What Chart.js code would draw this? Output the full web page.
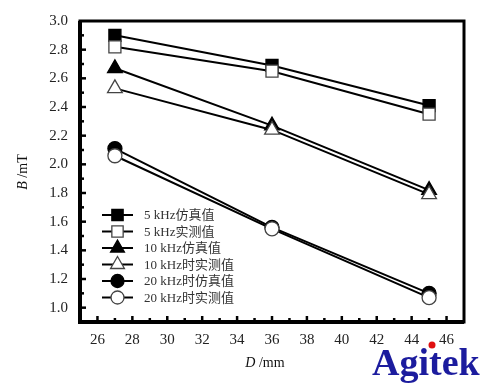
<!DOCTYPE html>
<html><head><meta charset="utf-8">
<script src="https://cdn.jsdelivr.net/npm/chart.js@4/dist/chart.umd.min.js"></script>
<style>html,body{margin:0;padding:0;background:#fff}#wrap{width:500px;height:383px;position:relative}</style>
</head><body><div id="wrap"><canvas id="c" width="500" height="383"></canvas></div>
<script>
const distances = [27, 36, 45];
const sim5 = [2.90, 2.69, 2.41];
const meas5 = [2.82, 2.65, 2.35];
const sim10 = [2.67, 2.27, 1.82];
const meas10 = [2.53, 2.24, 1.79];
const sim20 = [2.11, 1.56, 1.10];
const meas20 = [2.06, 1.55, 1.07];
const seriesLabels = ['5 kHz仿真值','5 kHz实测值','10 kHz仿真值','10 kHz时实测值','20 kHz时仿真值','20 kHz时实测值'];
const yTicks = [1.0,1.2,1.4,1.6,1.8,2.0,2.2,2.4,2.6,2.8,3.0];
const xTicks = [26,28,30,32,34,36,38,40,42,44,46];

const serif = '"Liberation Serif","Noto Sans CJK SC",serif';
function mk(label, data, style, filled, radius, order){
  return {label, data: distances.map((x,i)=>({x, y:data[i]})), borderColor:'#000', borderWidth:2,
    pointStyle: style, pointRadius: radius, pointHoverRadius: radius,
    pointBackgroundColor: filled ? '#000' : '#fff', pointBorderColor: filled ? '#000' : '#444',
    pointBorderWidth: 1.3, fill:false, tension:0, order};
}
const datasets = [
  mk(seriesLabels[0], sim5, 'rect', true, 8.5, 2),
  mk(seriesLabels[1], meas5, 'rect', false, 8.5, 1),
  mk(seriesLabels[2], sim10, 'triangle', true, 8.5, 2),
  mk(seriesLabels[3], meas10, 'triangle', false, 8.5, 1),
  mk(seriesLabels[4], sim20, 'circle', true, 7, 2),
  mk(seriesLabels[5], meas20, 'circle', false, 7, 1),
];

const decor = {
  id:'decor',
  afterDatasetsDraw(chart){
    const ctx = chart.ctx, a = chart.chartArea, xs = chart.scales.x, ys = chart.scales.y;
    ctx.save();
    ctx.strokeStyle='#000'; ctx.lineWidth=2.5;
    for(let v=26; v<=46; v++){
      const px = xs.getPixelForValue(v); const len = (v%2===0)?6:4;
      ctx.beginPath(); ctx.moveTo(px, a.bottom); ctx.lineTo(px, a.bottom-len); ctx.stroke();
    }
    for(let k=10; k<=29; k++){
      const py = ys.getPixelForValue(k/10); const len = (k%2===0)?6:4;
      ctx.beginPath(); ctx.moveTo(a.left, py); ctx.lineTo(a.left+len, py); ctx.stroke();
    }
    ctx.lineWidth=3;
    ctx.strokeRect(a.left, a.top, a.right-a.left, a.bottom-a.top);
    ctx.lineWidth=4;
    ctx.beginPath(); ctx.moveTo(a.left, a.top); ctx.lineTo(a.left, a.bottom); ctx.lineTo(a.right, a.bottom); ctx.stroke();

    // legend
    const lx0 = 102, lx1 = 133, tx = 144, y0 = 215, dy = 16.5;
    chart.data.datasets.forEach((ds,i)=>{
      const y = y0 + i*dy;
      ctx.strokeStyle='#000'; ctx.lineWidth=2;
      ctx.beginPath(); ctx.moveTo(lx0,y); ctx.lineTo(lx1,y); ctx.stroke();
      ctx.fillStyle = ds.pointBackgroundColor; ctx.strokeStyle = ds.pointBorderColor; ctx.lineWidth = ds.pointBorderWidth;
      const r = ds.pointStyle==='circle' ? 6.5 : 8;
      Chart.helpers.drawPoint(ctx, {pointStyle: ds.pointStyle, radius: r, borderWidth: ds.pointBorderWidth, rotation:0}, (lx0+lx1)/2, y);
      ctx.fillStyle='#333'; ctx.font='13px '+serif; ctx.textBaseline='middle'; ctx.textAlign='left';
      ctx.fillText(ds.label, tx, y+1);
    });

    // axis titles
    ctx.fillStyle='#111'; ctx.textBaseline='middle';
    ctx.save(); ctx.translate(23, 172); ctx.rotate(-Math.PI/2);
    ctx.textAlign='left';
    ctx.font='italic 14px '+serif; const wB = ctx.measureText('B').width;
    ctx.font='14px '+serif; const wU = ctx.measureText(' /mT').width;
    const st = -(wB+wU)/2;
    ctx.font='italic 14px '+serif; ctx.fillText('B', st, 0);
    ctx.font='14px '+serif; ctx.fillText(' /mT', st+wB, 0);
    ctx.restore();
    ctx.textAlign='left';
    ctx.font='italic 14px '+serif; const wD = ctx.measureText('D').width;
    ctx.font='14px '+serif; const wM = ctx.measureText(' /mm').width;
    const sx = 265 - (wD+wM)/2;
    ctx.font='italic 14px '+serif; ctx.fillText('D', sx, 363);
    ctx.font='14px '+serif; ctx.fillText(' /mm', sx+wD, 363);

    // logo
    ctx.font='bold 38px '+serif; ctx.fillStyle='#1c1c9e'; ctx.textBaseline='alphabetic';
    ctx.fillText('Agitek', 372, 375);
    ctx.fillStyle='#e01010'; ctx.beginPath(); ctx.arc(432, 345, 3.5, 0, Math.PI*2); ctx.fill();
    ctx.restore();
  }
};

new Chart(document.getElementById('c'), {
  type:'line',
  data:{datasets},
  options:{
    responsive:false, animation:false,
    layout:{padding:{left:0, right:36, top:19, bottom:0}},
    plugins:{legend:{display:false}, tooltip:{enabled:false}},
    scales:{
      x:{type:'linear', min:25, max:47,
        afterBuildTicks(s){ s.ticks = xTicks.map(v=>({value:v})); },
        afterFit(s){ s.height = 61; },
        grid:{display:false, drawTicks:false}, border:{display:false},
        ticks:{color:'#222', font:{family:serif, size:15}, padding:9}},
      y:{type:'linear', min:0.9, max:3.0,
        afterBuildTicks(s){ s.ticks = yTicks.map(v=>({value:v})); },
        afterFit(s){ s.width = 80; },
        grid:{display:false, drawTicks:false}, border:{display:false},
        ticks:{color:'#222', font:{family:serif, size:15}, padding:12, callback:v=>Number(v).toFixed(1)}}
    }
  },
  plugins:[decor]
});
</script></body></html>
